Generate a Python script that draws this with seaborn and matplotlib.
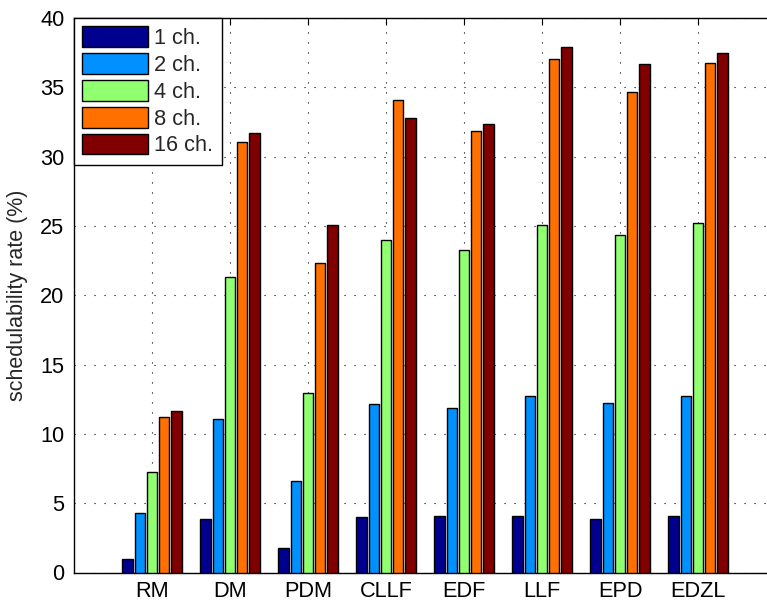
import numpy as np
import pandas as pd
import matplotlib
matplotlib.use("Agg")
import matplotlib.pyplot as plt
import seaborn as sns

policies = ["RM", "DM", "PDM", "CLLF", "EDF", "LLF", "EPD", "EDZL"]
channels = ["1 ch.", "2 ch.", "4 ch.", "8 ch.", "16 ch."]

rate_1ch = [0.95, 3.88, 1.79, 4.02, 4.08, 4.08, 3.85, 4.08]
rate_2ch = [4.27, 11.10, 6.60, 12.12, 11.90, 12.70, 12.22, 12.75]
rate_4ch = [7.25, 21.30, 12.98, 23.97, 23.25, 25.10, 24.38, 25.20]
rate_8ch = [11.20, 31.05, 22.35, 34.08, 31.88, 37.07, 34.64, 36.72]
rate_16ch = [11.65, 31.72, 25.05, 32.80, 32.34, 37.94, 36.67, 37.46]

colors = ["#00008F", "#0090FF", "#90FF70", "#FF7000", "#800000"]
yticks = [0, 5, 10, 15, 20, 25, 30, 35, 40]

series = [rate_1ch, rate_2ch, rate_4ch, rate_8ch, rate_16ch]
df = pd.DataFrame({
    "policy": np.tile(policies, len(channels)),
    "channels": np.repeat(channels, len(policies)),
    "rate": np.concatenate(series),
})

sns.set_style("white")
plt.rcParams["font.family"] = ["Liberation Sans", "DejaVu Sans"]
plt.rcParams["lines.scale_dashes"] = False

fig = plt.figure(figsize=(7.67, 6.04), dpi=100)
ax = fig.add_axes([74 / 767, 1 - 572.5 / 604, 702 / 767, 554.5 / 604])

sns.barplot(data=df, x="policy", y="rate", hue="channels",
            order=policies, hue_order=channels, palette=colors,
            saturation=1, width=0.78, gap=0.14,
            edgecolor="black", linewidth=1.0, ax=ax, zorder=3)

ax.set_xlim(-1, 8)
ax.set_ylim(0, 40)
ax.set_yticks(yticks)
ax.set_xlabel("")
ax.set_ylabel("schedulability rate (%)", fontsize=15.5, labelpad=9)

ax.grid(True, linestyle=(0, (0.8, 6.4)), linewidth=0.8, color="black", zorder=0)
ax.set_axisbelow(True)

for s in ax.spines.values():
    s.set_color("black")
    s.set_linewidth(1.0)

ax.tick_params(axis="both", direction="in", length=5, width=0.8, colors="black",
               labelsize=15.7, top=True, right=True)
ax.tick_params(axis="x", pad=6)
ax.tick_params(axis="y", pad=7)

old = ax.get_legend()
handles = old.legend_handles
labels = [t.get_text() for t in old.get_texts()]
old.remove()
for h in handles:
    h.set_edgecolor("black")
    h.set_linewidth(1.0)

leg = ax.legend(handles, labels, loc="upper left", bbox_to_anchor=(0, 1),
                borderaxespad=0, fontsize=15.7, handlelength=3.0,
                handleheight=1.1, handletextpad=0.3, labelspacing=0.18,
                borderpad=0.38, fancybox=False, framealpha=1,
                edgecolor="black")
leg.get_frame().set_linewidth(1.0)
leg.set_zorder(5)

fig.savefig("out.png", dpi=100)
